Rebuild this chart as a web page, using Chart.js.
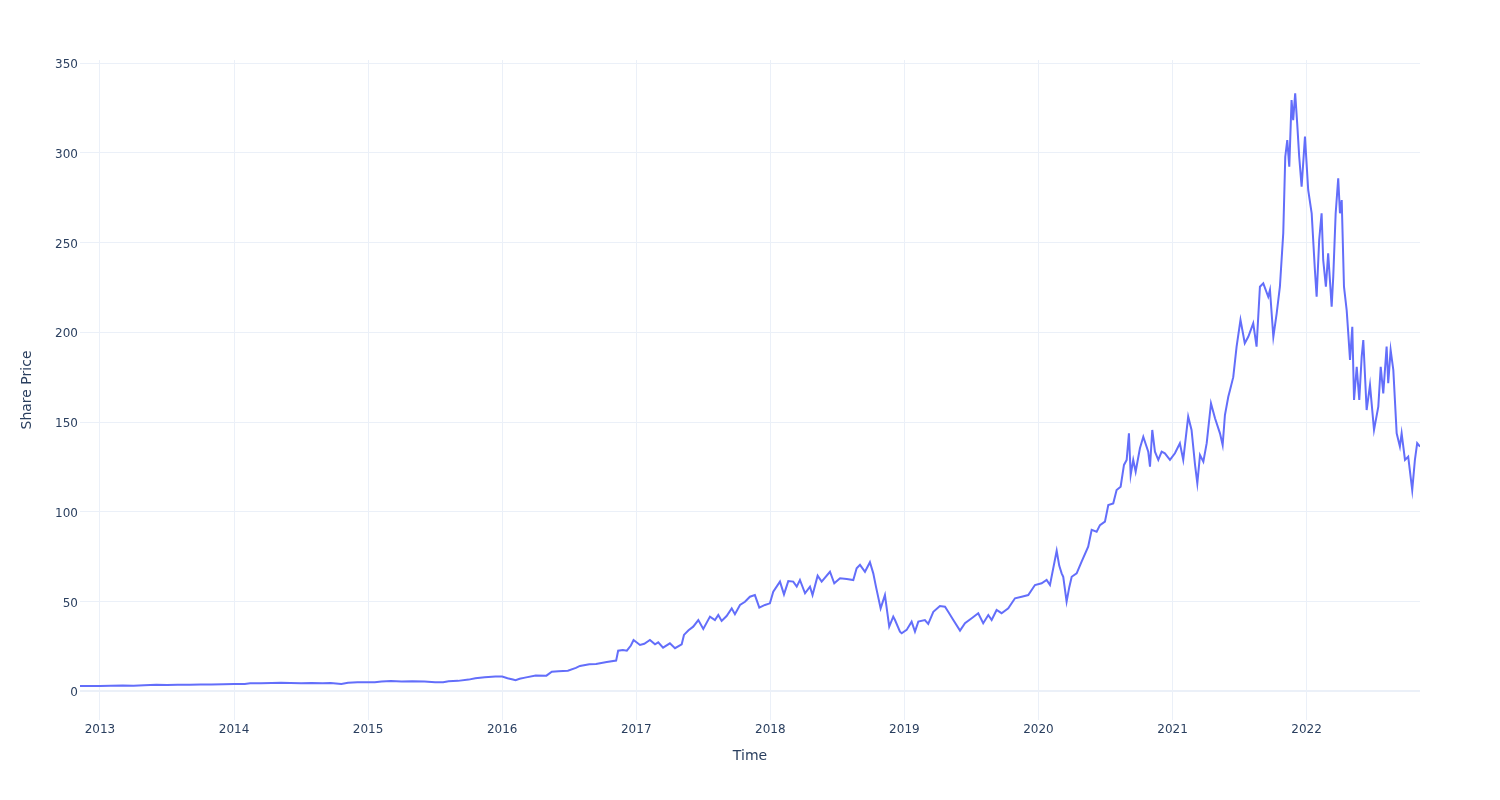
<!DOCTYPE html>
<html>
<head>
<meta charset="utf-8">
<script src="https://cdn.jsdelivr.net/npm/chart.js@4.4.0/dist/chart.umd.min.js"></script>
<style>
  html, body { margin: 0; padding: 0; background: #fff; }
  #price-chart { display: block; }
</style>
</head>
<body>
<canvas id="price-chart" width="1500" height="800"></canvas>
<script>
// Trading dates as decimal years
const times = [
  2012.851, 2012.92, 2013.0, 2013.08, 2013.17, 2013.25, 2013.33, 2013.42, 2013.5, 2013.58,
  2013.67, 2013.75, 2013.83, 2013.92, 2014.0, 2014.08, 2014.12, 2014.2, 2014.28, 2014.35,
  2014.42, 2014.5, 2014.58, 2014.66, 2014.72, 2014.8, 2014.85, 2014.92, 2015.0, 2015.05,
  2015.1, 2015.17, 2015.25, 2015.33, 2015.42, 2015.5, 2015.56, 2015.6, 2015.67, 2015.75,
  2015.8, 2015.87, 2015.95, 2016.0, 2016.04, 2016.08, 2016.1, 2016.13, 2016.17, 2016.25,
  2016.33, 2016.37, 2016.42, 2016.49, 2016.55, 2016.58, 2016.65, 2016.7, 2016.78, 2016.85,
  2016.865, 2016.9, 2016.93, 2016.96, 2016.98,
  2017.028, 2017.06, 2017.102, 2017.14, 2017.164, 2017.2, 2017.251, 2017.289, 2017.339, 2017.356,
  2017.39, 2017.425, 2017.463, 2017.5, 2017.55, 2017.587, 2017.612, 2017.637, 2017.674, 2017.712,
  2017.736, 2017.774, 2017.811, 2017.848, 2017.885, 2017.918, 2017.96, 2017.997, 2018.022, 2018.072,
  2018.102, 2018.134, 2018.171, 2018.197, 2018.221, 2018.259, 2018.296, 2018.315, 2018.353, 2018.383,
  2018.445, 2018.477, 2018.52, 2018.57, 2018.619, 2018.644, 2018.669, 2018.706, 2018.743, 2018.768,
  2018.788, 2018.823, 2018.855, 2018.887, 2018.917, 2018.93, 2018.967, 2018.98, 2019.017, 2019.054,
  2019.079, 2019.104, 2019.153, 2019.178, 2019.216, 2019.265, 2019.303, 2019.327, 2019.365, 2019.415,
  2019.452, 2019.502, 2019.551, 2019.588, 2019.626, 2019.651, 2019.688, 2019.725, 2019.775, 2019.825,
  2019.875, 2019.924, 2019.974, 2020.024, 2020.061, 2020.086, 2020.136, 2020.155, 2020.173, 2020.185,
  2020.21, 2020.23, 2020.248, 2020.285, 2020.322, 2020.371, 2020.397, 2020.434, 2020.459, 2020.496,
  2020.521, 2020.558, 2020.583, 2020.613, 2020.638, 2020.658, 2020.675, 2020.688, 2020.707, 2020.725,
  2020.757, 2020.782, 2020.819, 2020.832, 2020.849, 2020.869, 2020.894, 2020.919, 2020.943, 2020.981,
  2021.018, 2021.055, 2021.08, 2021.117, 2021.142, 2021.168, 2021.185, 2021.205, 2021.23, 2021.255,
  2021.287, 2021.317, 2021.354, 2021.374, 2021.391, 2021.416, 2021.429, 2021.453,
  2021.478, 2021.507, 2021.539, 2021.565, 2021.602, 2021.627, 2021.652, 2021.677, 2021.714, 2021.727,
  2021.752, 2021.777, 2021.801, 2021.826, 2021.841, 2021.856, 2021.871, 2021.888, 2021.9, 2021.915,
  2021.93, 2021.945, 2021.963, 2021.988, 2022.012, 2022.038, 2022.062, 2022.075, 2022.094, 2022.112,
  2022.124, 2022.144, 2022.161, 2022.187, 2022.199, 2022.217, 2022.236, 2022.249, 2022.262, 2022.279,
  2022.299, 2022.311, 2022.324, 2022.341, 2022.354, 2022.374, 2022.393, 2022.411, 2022.423, 2022.448,
  2022.473, 2022.503, 2022.535, 2022.553, 2022.572, 2022.597, 2022.609, 2022.627, 2022.647, 2022.672,
  2022.696, 2022.709, 2022.734, 2022.758, 2022.788, 2022.808, 2022.825, 2022.846
];

// Share price at each of those dates
const prices = [
  3.0, 2.9, 3.0, 3.1, 3.2, 3.1, 3.3, 3.6, 3.5, 3.6,
  3.7, 3.8, 3.8, 3.9, 4.0, 4.1, 4.5, 4.5, 4.6, 4.7,
  4.6, 4.5, 4.6, 4.5, 4.6, 4.0, 4.7, 5.0, 5.0, 5.0,
  5.4, 5.7, 5.4, 5.6, 5.5, 5.0, 5.0, 5.6, 5.8, 6.5,
  7.2, 7.8, 8.2, 8.2, 7.3, 6.6, 6.2, 7.0, 7.6, 8.8,
  8.7, 10.9, 11.2, 11.5, 13.0, 14.1, 15.0, 15.2, 16.3, 17.1,
  22.6, 23.0, 22.6, 25.5, 28.6,
  25.8, 26.5, 28.6, 26.2, 27.3, 24.3, 26.7, 24.0, 26.2, 31.4,
  34.0, 36.0, 39.7, 34.7, 41.6, 39.7, 42.5, 39.2, 41.9, 46.2,
  42.9, 48.1, 49.9, 52.7, 53.6, 46.6, 48.1, 49.0, 55.5, 61.1,
  54.0, 61.4, 61.1, 58.3, 62.0, 54.6, 58.3, 53.6, 64.4, 61.1,
  66.6, 60.2, 63.0, 62.6, 62.0, 68.5, 70.4, 66.6, 71.9, 65.7,
  58.3, 46.2, 53.6, 36.0, 41.6, 39.7, 33.2, 32.3, 34.2, 38.8,
  33.2, 38.8, 39.7, 37.5, 44.3, 47.5, 47.1, 44.3, 39.7, 33.8,
  37.9, 40.7, 43.5, 37.9, 42.5, 39.7, 45.3, 43.5, 46.2, 51.8,
  52.7, 53.6, 59.2, 60.2, 62.0, 59.2, 78.3, 70.0, 65.7, 63.8,
  49.9, 58.0, 63.8, 65.7, 72.2, 80.6, 89.9, 88.9, 92.6, 94.5,
  103.8, 104.7, 112.1, 114.0, 126.1, 128.9, 143.7, 120.5, 128.9, 122.3,
  135.4, 141.8, 133.5, 125.1, 145.6, 133.5, 128.9, 133.5, 132.6, 128.9,
  132.6, 138.2, 128.9, 153.0, 145.6, 126.1, 115.9, 131.6, 127.9, 138.2,
  160.4, 152.1, 143.7, 137.2, 153.9, 164.1, 167.9, 175.0,
  192.0, 206.9, 193.9, 197.5, 205.0, 192.0, 225.4, 227.3, 219.8, 223.6,
  197.5, 210.6, 225.4, 255.2, 297.8, 307.1, 292.3, 329.4, 318.2, 333.2,
  316.4, 297.8, 281.1, 309.0, 279.3, 266.3, 234.7, 219.8, 251.4, 266.3,
  240.3, 225.4, 244.0, 214.3, 231.0, 266.3, 285.8, 266.3, 273.7, 225.4,
  212.4, 199.4, 184.6, 203.1, 162.3, 180.8, 162.3, 186.4, 195.7, 156.7,
  170.6, 145.6, 158.6, 180.8, 166.0, 192.0, 171.6, 190.1, 179.0, 143.7,
  136.3, 143.7, 128.9, 130.7, 112.1, 128.9, 138.2, 136.3
];

const yearTicks = [2013, 2014, 2015, 2016, 2017, 2018, 2019, 2020, 2021, 2022];
const priceTicks = [0, 50, 100, 150, 200, 250, 300, 350];

const textColor = '#2a3f5f';
const gridColor = '#EBF0F8';
const fontFamily = '"DejaVu Sans", Verdana, Arial, sans-serif';

const points = times.map((t, i) => ({ x: t, y: prices[i] }));

const ctx = document.getElementById('price-chart').getContext('2d');
const priceChart = new Chart(ctx, {
  type: 'line',
  data: {
    datasets: [{
      label: 'Share Price',
      data: points,
      borderColor: '#636efa',
      borderWidth: 2,
      pointRadius: 0,
      tension: 0,
      fill: false
    }]
  },
  options: {
    responsive: false,
    animation: false,
    layout: { padding: { top: 60, right: 80, left: 0, bottom: 0 } },
    plugins: {
      legend: { display: false },
      tooltip: { enabled: false }
    },
    scales: {
      x: {
        type: 'linear',
        min: 2012.851,
        max: 2022.846,
        afterBuildTicks: scale => { scale.ticks = yearTicks.map(v => ({ value: v })); },
        afterFit: scale => { scale.height = 80; },
        grid: { color: gridColor, lineWidth: 1, drawTicks: false },
        border: { display: false },
        ticks: {
          padding: 3,
          maxRotation: 0,
          color: textColor,
          font: { family: fontFamily, size: 12 },
          callback: v => String(v)
        },
        title: {
          display: true,
          text: 'Time',
          color: textColor,
          font: { family: fontFamily, size: 14 },
          padding: { top: 0, bottom: 35 }
        }
      },
      y: {
        type: 'linear',
        min: -16,
        max: 351.7,
        afterBuildTicks: scale => { scale.ticks = priceTicks.map(v => ({ value: v })); },
        afterFit: scale => { scale.width = 80; },
        grid: {
          color: gridColor,
          lineWidth: c => (c.tick && c.tick.value === 0 ? 2 : 1),
          drawTicks: false
        },
        border: { display: false },
        ticks: {
          padding: 2,
          labelOffset: 2,
          color: textColor,
          font: { family: fontFamily, size: 12 }
        },
        title: {
          display: true,
          text: 'Share Price',
          color: textColor,
          font: { family: fontFamily, size: 14 },
          padding: { top: 18.6, bottom: 0 }
        }
      }
    }
  }
});
</script>
</body>
</html>
